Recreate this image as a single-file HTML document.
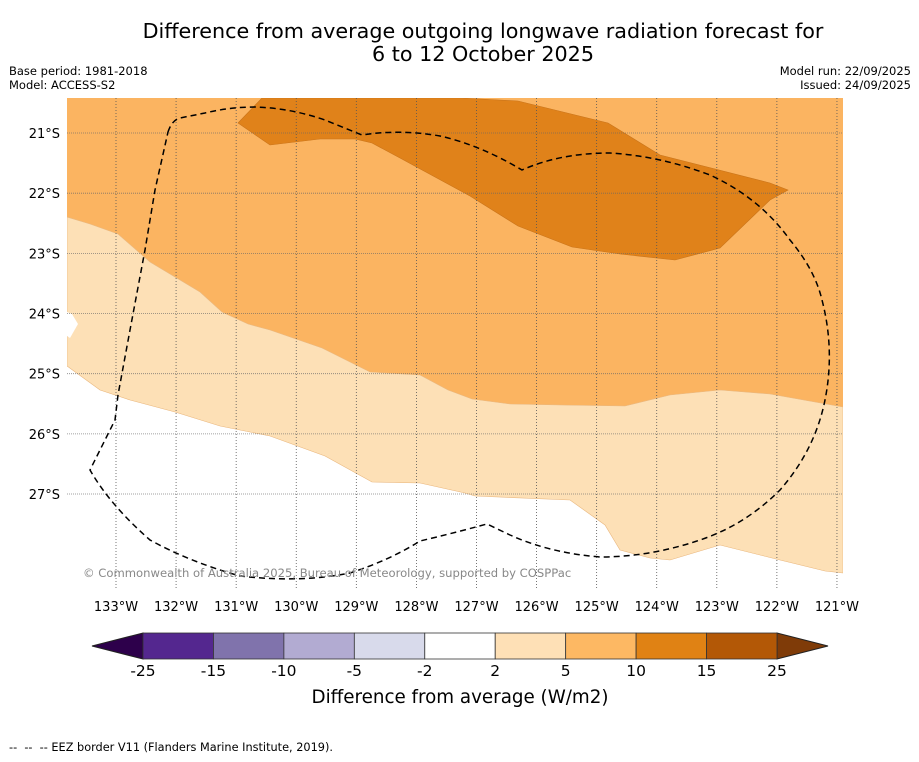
<!DOCTYPE html>
<html><head><meta charset="utf-8"><style>
body{margin:0;background:#fff;width:919px;height:758px;overflow:hidden;font-family:"DejaVu Sans","Liberation Sans",sans-serif}
</style></head><body>
<svg width="919" height="758" xmlns="http://www.w3.org/2000/svg">
<text x="483" y="38" text-anchor="middle" font-size="20.7">Difference from average outgoing longwave radiation forecast for</text>
<text x="483" y="61" text-anchor="middle" font-size="20.7">6 to 12 October 2025</text>
<text x="9" y="75" font-size="11.5">Base period: 1981-2018</text>
<text x="9" y="89" font-size="11.5">Model: ACCESS-S2</text>
<text x="911" y="75" font-size="11.5" text-anchor="end">Model run: 22/09/2025</text>
<text x="911" y="89" font-size="11.5" text-anchor="end">Issued: 24/09/2025</text>
<defs><clipPath id="mc"><rect x="67" y="98" width="776" height="492"/></clipPath></defs>
<g clip-path="url(#mc)">
<rect x="67" y="98" width="776" height="492" fill="#fbb461"/>
<polygon fill="#fff" points="67,366 100,390 130,400 175,412 220,426 270,436 325,456 372,482 420,483 465,493 475,496 570,500 605,525 620,550 650,558 670,560 720,545 780,560 825,571 843,573 843,600 67,600"/>
<polygon fill="#fde0b6" stroke="#e9b880" stroke-width="0.6" points="67,217 90,224 118,234 150,262 200,292 222,312 248,324 270,330 322,348 370,372 420,375 448,390 472,399 510,404 560,405 625,406 670,395 720,390 770,394 843,407 843,573 825,571 780,560 720,545 670,560 650,558 620,550 605,525 570,500 475,496 465,493 420,483 372,482 325,456 270,436 220,426 175,412 130,400 100,390 67,366"/>
<polygon fill="#fff" points="67,312 72,314 78,324 70,338 67,336"/>
<polygon fill="#e0821a" stroke="#c9741a" stroke-width="0.6" points="238,123 262,98 460,98 518,101 608,123 660,155 770,183 788,190 770,200 720,248 675,260 620,254 572,247 518,226 470,196 400,158 372,143 355,139 320,139 270,145"/>
<g id="grid"></g>
<path fill="none" stroke="#000" stroke-width="1.5" stroke-dasharray="6,4" d="M168,132 Q172,120 180,118 L205,113 Q230,107 255,107 Q290,108 325,120 L362,135 Q400,129 440,136 Q480,145 522,170 Q560,153 610,153 Q660,156 710,175 Q760,198 790,240 Q815,270 822,300 Q835,350 825,400 Q815,450 780,490 Q745,525 700,540 Q650,557 600,557 Q550,553 510,535 L487,524 Q450,534 420,541 Q390,560 350,573 Q300,583 240,576 Q190,562 150,540 Q110,505 90,470 L115,420 L118,395 L130,330 L145,250 L155,190 Z"/>
</g>
<text x="83" y="577" font-size="11.6" fill="#888">© Commonwealth of Australia 2025, Bureau of Meteorology, supported by COSPPac</text>
<g id="xt"></g>
<g id="yt"></g>
<g id="cb"></g>
<text x="460" y="703" text-anchor="middle" font-size="18.3">Difference from average (W/m2)</text>
<text x="9" y="751" font-size="11.3" xml:space="preserve">--  --  -- EEZ border V11 (Flanders Marine Institute, 2019).</text>
</svg>
<script>
const lons=[133,132,131,130,129,128,127,126,125,124,123,122,121];
const lats=[21,22,23,24,25,26,27];
const levels=[-25,-15,-10,-5,-2,2,5,10,15,25];
const colors=['#54278f','#8073ac','#b2abd2','#d8daeb','#ffffff','#fee0b6','#fdb863','#e08214','#b35806'];
const NS='http://www.w3.org/2000/svg';
function lx(l){return 116+(133-l)*60.08;}
function ly(l){return 133+(l-21)*60.17;}
const g=document.getElementById('grid'),xt=document.getElementById('xt'),yt=document.getElementById('yt'),cb=document.getElementById('cb');
function mk(t,a,p){const e=document.createElementNS(NS,t);for(const k in a)e.setAttribute(k,a[k]);p.appendChild(e);return e;}
lons.forEach(l=>{const x=lx(l);
 const ln=mk('line',{x1:x,y1:98,x2:x,y2:590,stroke:'#555','stroke-width':0.8,'stroke-dasharray':'1,2'},g);
 
 
 const t=mk('text',{x:x,y:611,'text-anchor':'middle','font-size':13},xt);t.textContent=l+'°W';
 
 });
lats.forEach(l=>{const y=ly(l);
 const ln=mk('line',{x1:67,y1:y,x2:843,y2:y,stroke:'#666','stroke-width':0.8,'stroke-dasharray':'1,1','opacity':0.8},g);
 
 
 const t=mk('text',{x:60,y:y+5,'text-anchor':'end','font-size':13},yt);t.textContent=l+'°S';
 
 });
const x0=143,x1=777,y0=633,h=26,w=(x1-x0)/colors.length;
const lt=mk('polygon',{points:`92,646 ${x0},${y0} ${x0},${y0+h}`,fill:'#2d004b',stroke:'#222'},cb);


const rt=mk('polygon',{points:`828,646 ${x1},${y0} ${x1},${y0+h}`,fill:'#7f3b08',stroke:'#222'},cb);


colors.forEach((c,i)=>{const r=mk('rect',{x:x0+i*w,y:y0,width:w,height:h,fill:c,stroke:'#333','stroke-width':0.8},cb);
 
 });
levels.forEach((v,i)=>{const t=mk('text',{x:x0+i*w,y:676,'text-anchor':'middle','font-size':15.5},cb);t.textContent=v;
 
 });
</script>
</body></html>
